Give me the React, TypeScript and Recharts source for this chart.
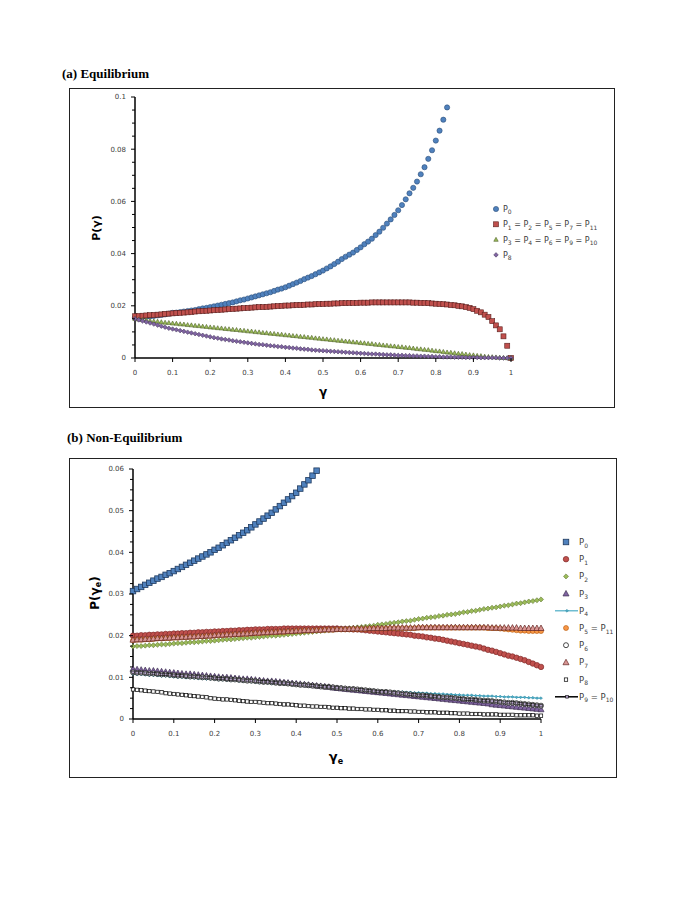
import React from 'react';
import { LineChart, Line, XAxis, YAxis } from 'recharts';

const FONT = '"DejaVu Sans", Verdana, sans-serif';
const SERIF = '"Liberation Serif", "Times New Roman", serif';

// ---------- shared x grid (gamma) ----------
const xGrid = [
  0, 0.01, 0.02, 0.03, 0.04, 0.05, 0.06, 0.07, 0.08, 0.09,
  0.1, 0.11, 0.12, 0.13, 0.14, 0.15, 0.16, 0.17, 0.18, 0.19,
  0.2, 0.21, 0.22, 0.23, 0.24, 0.25, 0.26, 0.27, 0.28, 0.29,
  0.3, 0.31, 0.32, 0.33, 0.34, 0.35, 0.36, 0.37, 0.38, 0.39,
  0.4, 0.41, 0.42, 0.43, 0.44, 0.45, 0.46, 0.47, 0.48, 0.49,
  0.5, 0.51, 0.52, 0.53, 0.54, 0.55, 0.56, 0.57, 0.58, 0.59,
  0.6, 0.61, 0.62, 0.63, 0.64, 0.65, 0.66, 0.67, 0.68, 0.69,
  0.7, 0.71, 0.72, 0.73, 0.74, 0.75, 0.76, 0.77, 0.78, 0.79,
  0.8, 0.81, 0.82, 0.83, 0.84, 0.85, 0.86, 0.87, 0.88, 0.89,
  0.9, 0.91, 0.92, 0.93, 0.94, 0.95, 0.96, 0.97, 0.98, 0.99,
  1,
];
const xTicks = [0, 0.1, 0.2, 0.3, 0.4, 0.5, 0.6, 0.7, 0.8, 0.9, 1];

// ---------- (a) Equilibrium ----------
const eqP0 = [
  0.0155, 0.0156, 0.0157, 0.0158, 0.0159, 0.0161, 0.0163, 0.0165, 0.0167, 0.0170,
  0.0173, 0.0174, 0.0176, 0.0178, 0.0180, 0.0182, 0.0184, 0.0187, 0.0190, 0.0192,
  0.0195, 0.0198, 0.0201, 0.0204, 0.0207, 0.0210, 0.0213, 0.0217, 0.0221, 0.0224,
  0.0228, 0.0232, 0.0236, 0.0240, 0.0244, 0.0248, 0.0252, 0.0257, 0.0262, 0.0266,
  0.0271, 0.0277, 0.0283, 0.0289, 0.0295, 0.0302, 0.0308, 0.0314, 0.0321, 0.0328,
  0.0335, 0.0343, 0.0351, 0.0360, 0.0369, 0.0379, 0.0388, 0.0396, 0.0404, 0.0414,
  0.0424, 0.0436, 0.0446, 0.0457, 0.0471, 0.0484, 0.0499, 0.0515, 0.0531, 0.0548,
  0.0566, 0.0586, 0.0608, 0.0631, 0.0652, 0.0676, 0.0704, 0.0731, 0.0763, 0.0796,
  0.0833, 0.0871, 0.0913, 0.0960,
];
const eqP1 = [
  0.0160, 0.0161, 0.0162, 0.0163, 0.0164, 0.0165, 0.0166, 0.0167, 0.0169, 0.0170,
  0.0171, 0.0172, 0.0173, 0.0174, 0.0175, 0.0176, 0.0178, 0.0179, 0.0180, 0.0181,
  0.0182, 0.0183, 0.0184, 0.0185, 0.0186, 0.0187, 0.0188, 0.0189, 0.0190, 0.0191,
  0.0192, 0.0193, 0.0194, 0.0195, 0.0195, 0.0196, 0.0197, 0.0198, 0.0199, 0.0200,
  0.0201, 0.0201, 0.0202, 0.0203, 0.0203, 0.0204, 0.0205, 0.0205, 0.0206, 0.0207,
  0.0207, 0.0208, 0.0208, 0.0209, 0.0209, 0.0210, 0.0210, 0.0211, 0.0211, 0.0211,
  0.0212, 0.0212, 0.0212, 0.0213, 0.0213, 0.0213, 0.0213, 0.0213, 0.0213, 0.0213,
  0.0213, 0.0213, 0.0213, 0.0213, 0.0212, 0.0212, 0.0211, 0.0211, 0.0210, 0.0209,
  0.0208, 0.0207, 0.0206, 0.0205, 0.0203, 0.0202, 0.0200, 0.0198, 0.0195, 0.0192,
  0.0187, 0.0181, 0.0175, 0.0166, 0.0157, 0.0141, 0.0125, 0.0110, 0.0083, 0.0047,
  0.0000,
];
const eqP3 = [
  0.0150, 0.0148, 0.0146, 0.0145, 0.0143, 0.0141, 0.0140, 0.0138, 0.0136, 0.0135,
  0.0133, 0.0132, 0.0130, 0.0129, 0.0127, 0.0126, 0.0124, 0.0123, 0.0121, 0.0120,
  0.0118, 0.0117, 0.0115, 0.0114, 0.0112, 0.0111, 0.0109, 0.0108, 0.0106, 0.0105,
  0.0103, 0.0102, 0.0100, 0.0099, 0.0097, 0.0096, 0.0094, 0.0093, 0.0091, 0.0090,
  0.0088, 0.0087, 0.0085, 0.0084, 0.0082, 0.0081, 0.0079, 0.0078, 0.0076, 0.0075,
  0.0073, 0.0072, 0.0070, 0.0069, 0.0067, 0.0066, 0.0064, 0.0063, 0.0061, 0.0060,
  0.0058, 0.0057, 0.0055, 0.0054, 0.0052, 0.0051, 0.0049, 0.0048, 0.0046, 0.0045,
  0.0043, 0.0042, 0.0040, 0.0039, 0.0037, 0.0035, 0.0034, 0.0032, 0.0031, 0.0029,
  0.0027, 0.0026, 0.0024, 0.0022, 0.0021, 0.0019, 0.0017, 0.0016, 0.0014, 0.0012,
  0.0011, 0.0009, 0.0008, 0.0006, 0.0005, 0.0004, 0.0003, 0.0002, 0.0001, 0.0000,
  0.0000,
];
const eqP8 = [
  0.0150, 0.0146, 0.0142, 0.0138, 0.0134, 0.0130, 0.0126, 0.0122, 0.0118, 0.0114,
  0.0111, 0.0108, 0.0105, 0.0102, 0.0099, 0.0096, 0.0093, 0.0090, 0.0087, 0.0084,
  0.0081, 0.0078, 0.0076, 0.0073, 0.0071, 0.0069, 0.0066, 0.0064, 0.0062, 0.0060,
  0.0058, 0.0056, 0.0054, 0.0052, 0.0051, 0.0049, 0.0047, 0.0046, 0.0044, 0.0043,
  0.0041, 0.0040, 0.0038, 0.0037, 0.0035, 0.0034, 0.0033, 0.0031, 0.0030, 0.0029,
  0.0028, 0.0027, 0.0026, 0.0025, 0.0024, 0.0023, 0.0022, 0.0021, 0.0020, 0.0019,
  0.0018, 0.0017, 0.0016, 0.0015, 0.0015, 0.0014, 0.0013, 0.0012, 0.0012, 0.0011,
  0.0010, 0.0010, 0.0009, 0.0009, 0.0008, 0.0008, 0.0007, 0.0007, 0.0006, 0.0006,
  0.0005, 0.0005, 0.0004, 0.0004, 0.0004, 0.0003, 0.0003, 0.0003, 0.0002, 0.0002,
  0.0002, 0.0002, 0.0001, 0.0001, 0.0001, 0.0001, 0.0001, 0.0000, 0.0000, 0.0000,
  0.0000,
];
const eqYTicks = [
  0, 0.005, 0.01, 0.015, 0.02, 0.025, 0.03, 0.035, 0.04, 0.045, 0.05,
  0.055, 0.06, 0.065, 0.07, 0.075, 0.08, 0.085, 0.09, 0.095, 0.1,
];
const eqYMajor = [0, 0.02, 0.04, 0.06, 0.08, 0.1];

// ---------- (b) Non-Equilibrium ----------
const neP0 = [
  0.0307, 0.0312, 0.0317, 0.0322, 0.0327, 0.0332, 0.0337, 0.0341, 0.0346, 0.0350,
  0.0355, 0.0360, 0.0365, 0.0370, 0.0375, 0.0380, 0.0385, 0.0390, 0.0395, 0.0400,
  0.0406, 0.0411, 0.0417, 0.0423, 0.0429, 0.0435, 0.0441, 0.0447, 0.0453, 0.0460,
  0.0467, 0.0474, 0.0481, 0.0488, 0.0495, 0.0503, 0.0511, 0.0519, 0.0527, 0.0535,
  0.0543, 0.0553, 0.0563, 0.0573, 0.0584, 0.0596,
];
const neP1 = [
  0.0200, 0.0200, 0.0201, 0.0201, 0.0202, 0.0202, 0.0203, 0.0203, 0.0204, 0.0204,
  0.0205, 0.0205, 0.0206, 0.0206, 0.0207, 0.0207, 0.0208, 0.0208, 0.0209, 0.0209,
  0.0210, 0.0210, 0.0211, 0.0211, 0.0212, 0.0212, 0.0213, 0.0213, 0.0214, 0.0214,
  0.0215, 0.0215, 0.0215, 0.0216, 0.0216, 0.0216, 0.0216, 0.0217, 0.0217, 0.0217,
  0.0217, 0.0217, 0.0217, 0.0217, 0.0217, 0.0217, 0.0217, 0.0217, 0.0217, 0.0217,
  0.0217, 0.0216, 0.0216, 0.0216, 0.0215, 0.0215, 0.0214, 0.0213, 0.0212, 0.0211,
  0.0210, 0.0209, 0.0208, 0.0207, 0.0206, 0.0205, 0.0204, 0.0203, 0.0202, 0.0200,
  0.0199, 0.0198, 0.0196, 0.0195, 0.0193, 0.0192, 0.0190, 0.0188, 0.0186, 0.0184,
  0.0182, 0.0180, 0.0178, 0.0176, 0.0174, 0.0172, 0.0169, 0.0166, 0.0164, 0.0161,
  0.0158, 0.0155, 0.0152, 0.0150, 0.0147, 0.0144, 0.0141, 0.0137, 0.0133, 0.0129,
  0.0125,
];
const neP2 = [
  0.0174, 0.0175, 0.0175, 0.0176, 0.0177, 0.0177, 0.0178, 0.0179, 0.0179, 0.0180,
  0.0181, 0.0182, 0.0182, 0.0183, 0.0184, 0.0184, 0.0185, 0.0186, 0.0187, 0.0187,
  0.0188, 0.0189, 0.0190, 0.0191, 0.0191, 0.0192, 0.0193, 0.0194, 0.0195, 0.0195,
  0.0196, 0.0197, 0.0198, 0.0199, 0.0200, 0.0200, 0.0201, 0.0202, 0.0203, 0.0204,
  0.0205, 0.0206, 0.0207, 0.0208, 0.0209, 0.0210, 0.0211, 0.0212, 0.0213, 0.0214,
  0.0215, 0.0216, 0.0217, 0.0218, 0.0219, 0.0220, 0.0221, 0.0222, 0.0223, 0.0224,
  0.0226, 0.0227, 0.0228, 0.0230, 0.0231, 0.0232, 0.0234, 0.0235, 0.0236, 0.0238,
  0.0240, 0.0241, 0.0243, 0.0244, 0.0245, 0.0247, 0.0248, 0.0250, 0.0251, 0.0252,
  0.0254, 0.0256, 0.0257, 0.0259, 0.0260, 0.0262, 0.0264, 0.0265, 0.0267, 0.0268,
  0.0270, 0.0272, 0.0273, 0.0275, 0.0277, 0.0278, 0.0280, 0.0282, 0.0283, 0.0285,
  0.0287,
];
const neP3 = [
  0.0120, 0.0119, 0.0118, 0.0117, 0.0116, 0.0116, 0.0115, 0.0114, 0.0113, 0.0112,
  0.0111, 0.0110, 0.0109, 0.0108, 0.0108, 0.0107, 0.0106, 0.0105, 0.0104, 0.0103,
  0.0102, 0.0101, 0.0100, 0.0100, 0.0099, 0.0098, 0.0097, 0.0096, 0.0096, 0.0095,
  0.0094, 0.0093, 0.0092, 0.0091, 0.0091, 0.0090, 0.0089, 0.0088, 0.0087, 0.0086,
  0.0085, 0.0084, 0.0083, 0.0082, 0.0081, 0.0080, 0.0079, 0.0078, 0.0077, 0.0075,
  0.0074, 0.0073, 0.0072, 0.0071, 0.0070, 0.0069, 0.0068, 0.0067, 0.0066, 0.0065,
  0.0064, 0.0063, 0.0062, 0.0061, 0.0060, 0.0059, 0.0058, 0.0057, 0.0056, 0.0055,
  0.0054, 0.0053, 0.0052, 0.0051, 0.0050, 0.0049, 0.0048, 0.0047, 0.0046, 0.0045,
  0.0044, 0.0043, 0.0042, 0.0041, 0.0040, 0.0039, 0.0038, 0.0037, 0.0035, 0.0034,
  0.0033, 0.0032, 0.0031, 0.0030, 0.0029, 0.0028, 0.0027, 0.0026, 0.0025, 0.0024,
  0.0023,
];
const neP4 = [
  0.0108, 0.0107, 0.0107, 0.0106, 0.0105, 0.0105, 0.0104, 0.0103, 0.0103, 0.0102,
  0.0101, 0.0100, 0.0100, 0.0099, 0.0099, 0.0098, 0.0097, 0.0097, 0.0096, 0.0096,
  0.0095, 0.0094, 0.0094, 0.0093, 0.0092, 0.0092, 0.0091, 0.0090, 0.0090, 0.0089,
  0.0088, 0.0087, 0.0087, 0.0086, 0.0085, 0.0085, 0.0084, 0.0083, 0.0083, 0.0082,
  0.0081, 0.0080, 0.0080, 0.0079, 0.0078, 0.0078, 0.0077, 0.0076, 0.0076, 0.0075,
  0.0074, 0.0073, 0.0073, 0.0072, 0.0072, 0.0071, 0.0071, 0.0070, 0.0069, 0.0069,
  0.0068, 0.0067, 0.0067, 0.0066, 0.0066, 0.0065, 0.0065, 0.0064, 0.0064, 0.0063,
  0.0063, 0.0062, 0.0062, 0.0061, 0.0061, 0.0060, 0.0060, 0.0059, 0.0059, 0.0058,
  0.0058, 0.0057, 0.0057, 0.0057, 0.0056, 0.0056, 0.0055, 0.0055, 0.0055, 0.0054,
  0.0054, 0.0053, 0.0053, 0.0053, 0.0052, 0.0052, 0.0052, 0.0051, 0.0051, 0.0050,
  0.0050,
];
const neP5 = [
  0.0189, 0.0190, 0.0190, 0.0191, 0.0191, 0.0192, 0.0193, 0.0193, 0.0194, 0.0194,
  0.0195, 0.0195, 0.0196, 0.0196, 0.0197, 0.0197, 0.0198, 0.0198, 0.0199, 0.0199,
  0.0200, 0.0201, 0.0201, 0.0202, 0.0202, 0.0203, 0.0203, 0.0204, 0.0204, 0.0205,
  0.0206, 0.0206, 0.0207, 0.0207, 0.0208, 0.0208, 0.0209, 0.0209, 0.0210, 0.0210,
  0.0211, 0.0211, 0.0212, 0.0212, 0.0212, 0.0213, 0.0213, 0.0214, 0.0214, 0.0214,
  0.0215, 0.0215, 0.0215, 0.0215, 0.0216, 0.0216, 0.0216, 0.0216, 0.0217, 0.0217,
  0.0217, 0.0217, 0.0217, 0.0218, 0.0218, 0.0218, 0.0218, 0.0218, 0.0218, 0.0218,
  0.0219, 0.0219, 0.0219, 0.0219, 0.0219, 0.0219, 0.0219, 0.0219, 0.0219, 0.0219,
  0.0219, 0.0219, 0.0219, 0.0219, 0.0219, 0.0219, 0.0219, 0.0218, 0.0218, 0.0218,
  0.0217, 0.0216, 0.0215, 0.0214, 0.0213, 0.0212, 0.0212, 0.0211, 0.0211, 0.0211,
  0.0211,
];
const neP7 = [
  0.0190, 0.0191, 0.0191, 0.0192, 0.0192, 0.0193, 0.0194, 0.0194, 0.0195, 0.0195,
  0.0196, 0.0196, 0.0197, 0.0197, 0.0198, 0.0198, 0.0199, 0.0199, 0.0200, 0.0200,
  0.0201, 0.0202, 0.0202, 0.0203, 0.0203, 0.0204, 0.0204, 0.0205, 0.0205, 0.0206,
  0.0207, 0.0207, 0.0208, 0.0208, 0.0209, 0.0209, 0.0210, 0.0210, 0.0211, 0.0211,
  0.0212, 0.0212, 0.0213, 0.0213, 0.0213, 0.0214, 0.0214, 0.0215, 0.0215, 0.0215,
  0.0216, 0.0216, 0.0216, 0.0216, 0.0217, 0.0217, 0.0217, 0.0217, 0.0218, 0.0218,
  0.0218, 0.0218, 0.0218, 0.0219, 0.0219, 0.0219, 0.0219, 0.0219, 0.0219, 0.0219,
  0.0220, 0.0220, 0.0220, 0.0220, 0.0220, 0.0220, 0.0220, 0.0220, 0.0220, 0.0220,
  0.0220, 0.0220, 0.0220, 0.0220, 0.0220, 0.0220, 0.0220, 0.0220, 0.0219, 0.0219,
  0.0219, 0.0219, 0.0219, 0.0219, 0.0219, 0.0218, 0.0218, 0.0218, 0.0218, 0.0218,
  0.0218,
];
const neP8 = [
  0.0071, 0.0070, 0.0069, 0.0068, 0.0067, 0.0066, 0.0065, 0.0064, 0.0062, 0.0061,
  0.0060, 0.0059, 0.0058, 0.0057, 0.0056, 0.0055, 0.0054, 0.0053, 0.0052, 0.0050,
  0.0049, 0.0048, 0.0047, 0.0047, 0.0046, 0.0045, 0.0044, 0.0043, 0.0042, 0.0041,
  0.0041, 0.0040, 0.0039, 0.0038, 0.0038, 0.0037, 0.0036, 0.0035, 0.0035, 0.0034,
  0.0033, 0.0032, 0.0032, 0.0031, 0.0030, 0.0030, 0.0029, 0.0029, 0.0028, 0.0027,
  0.0027, 0.0026, 0.0026, 0.0025, 0.0025, 0.0024, 0.0024, 0.0023, 0.0023, 0.0022,
  0.0022, 0.0021, 0.0021, 0.0020, 0.0020, 0.0019, 0.0019, 0.0019, 0.0018, 0.0018,
  0.0017, 0.0017, 0.0016, 0.0016, 0.0016, 0.0015, 0.0015, 0.0015, 0.0014, 0.0014,
  0.0013, 0.0013, 0.0013, 0.0012, 0.0012, 0.0012, 0.0011, 0.0011, 0.0011, 0.0011,
  0.0010, 0.0010, 0.0010, 0.0010, 0.0009, 0.0009, 0.0009, 0.0009, 0.0009, 0.0008,
  0.0008,
];
const neP9 = [
  0.0112, 0.0111, 0.0111, 0.0110, 0.0109, 0.0109, 0.0108, 0.0107, 0.0107, 0.0106,
  0.0105, 0.0104, 0.0104, 0.0103, 0.0102, 0.0102, 0.0101, 0.0100, 0.0100, 0.0099,
  0.0098, 0.0097, 0.0097, 0.0096, 0.0095, 0.0095, 0.0094, 0.0093, 0.0092, 0.0092,
  0.0091, 0.0090, 0.0089, 0.0089, 0.0088, 0.0087, 0.0086, 0.0086, 0.0085, 0.0084,
  0.0083, 0.0082, 0.0082, 0.0081, 0.0080, 0.0079, 0.0078, 0.0077, 0.0077, 0.0076,
  0.0075, 0.0074, 0.0073, 0.0072, 0.0072, 0.0071, 0.0070, 0.0069, 0.0068, 0.0067,
  0.0066, 0.0065, 0.0065, 0.0064, 0.0063, 0.0062, 0.0061, 0.0060, 0.0059, 0.0058,
  0.0057, 0.0057, 0.0056, 0.0055, 0.0054, 0.0053, 0.0052, 0.0052, 0.0051, 0.0050,
  0.0049, 0.0048, 0.0047, 0.0047, 0.0046, 0.0045, 0.0044, 0.0044, 0.0043, 0.0042,
  0.0041, 0.0040, 0.0039, 0.0039, 0.0038, 0.0037, 0.0036, 0.0035, 0.0034, 0.0033,
  0.0032,
];
// P6 is read as lying under the P9 = P10 curve
const neP6 = neP9;
const neYTicks = [
  0, 0.0025, 0.005, 0.0075, 0.01, 0.0125, 0.015, 0.0175, 0.02, 0.0225, 0.025,
  0.0275, 0.03, 0.0325, 0.035, 0.0375, 0.04, 0.0425, 0.045, 0.0475, 0.05,
  0.0525, 0.055, 0.0575, 0.06,
];
const neYMajor = [0, 0.01, 0.02, 0.03, 0.04, 0.05, 0.06];

// ---------- tables ----------
const at = (arr: number[], i: number) => (i < arr.length ? arr[i] : null);
const eqData = xGrid.map((x, i) => ({
  x,
  p0: at(eqP0, i),
  p1: at(eqP1, i),
  p3: at(eqP3, i),
  p8: at(eqP8, i),
}));
const neData = xGrid.map((x, i) => ({
  x,
  p0: at(neP0, i),
  p1: at(neP1, i),
  p2: at(neP2, i),
  p3: at(neP3, i),
  p4: at(neP4, i),
  p5: at(neP5, i),
  p6: at(neP6, i),
  p7: at(neP7, i),
  p8: at(neP8, i),
  p9: at(neP9, i),
}));

// ---------- markers ----------
type Mk = { shape: 'circle' | 'square' | 'triangle' | 'diamond'; size: number; fill: string; stroke: string; sw: number };

function Marker({ cx, cy, m }: { cx: number; cy: number; m: Mk }) {
  const s = m.size / 2;
  const common = { fill: m.fill, stroke: m.stroke, strokeWidth: m.sw };
  if (m.shape === 'circle') return <circle cx={cx} cy={cy} r={s} {...common} />;
  if (m.shape === 'square') return <rect x={cx - s} y={cy - s} width={m.size} height={m.size} {...common} />;
  if (m.shape === 'triangle')
    return (
      <polygon
        points={`${cx},${cy - s * 1.15} ${cx + s * 1.1},${cy + s * 0.85} ${cx - s * 1.1},${cy + s * 0.85}`}
        {...common}
      />
    );
  return (
    <polygon
      points={`${cx},${cy - s * 1.2} ${cx + s * 1.2},${cy} ${cx},${cy + s * 1.2} ${cx - s * 1.2},${cy}`}
      {...common}
    />
  );
}

const dotFor = (m: Mk) => (props: any) => {
  const { cx, cy, index, value } = props;
  if (value == null || cy == null || Number.isNaN(cy) || cx == null) return <g key={`e${index}`} />;
  return <Marker key={`d${index}`} cx={cx} cy={cy} m={m} />;
};

// panel (a) markers
const mkA0: Mk = { shape: 'circle', size: 5.2, fill: '#4F81BD', stroke: '#2E4F78', sw: 0.6 };
const mkA1: Mk = { shape: 'square', size: 5, fill: '#C0504D', stroke: '#5A1F1D', sw: 0.6 };
const mkA3: Mk = { shape: 'triangle', size: 4, fill: '#9BBB59', stroke: '#4F6228', sw: 0.6 };
const mkA8: Mk = { shape: 'diamond', size: 3.8, fill: '#8064A2', stroke: '#4A3A60', sw: 0.6 };

// panel (b) markers
const mkB0: Mk = { shape: 'square', size: 5.5, fill: '#4F81BD', stroke: '#1F3A5F', sw: 0.8 };
const mkB1: Mk = { shape: 'circle', size: 5.5, fill: '#C0504D', stroke: '#7F2A28', sw: 0.7 };
const mkB2: Mk = { shape: 'diamond', size: 4.2, fill: '#9BBB59', stroke: '#5F7530', sw: 0.6 };
const mkB3: Mk = { shape: 'triangle', size: 5.5, fill: '#8064A2', stroke: '#3F3151', sw: 0.7 };
const mkB4: Mk = { shape: 'diamond', size: 2.4, fill: '#4BACC6', stroke: '#31859C', sw: 0.5 };
const mkB5: Mk = { shape: 'circle', size: 5, fill: '#F79646', stroke: '#B65708', sw: 0.6 };
const mkB6: Mk = { shape: 'circle', size: 5, fill: '#FFFFFF', stroke: '#000000', sw: 0.7 };
const mkB7: Mk = { shape: 'triangle', size: 5.5, fill: '#D99694', stroke: '#632523', sw: 0.7 };
const mkB8: Mk = { shape: 'square', size: 3.4, fill: '#FFFFFF', stroke: '#000000', sw: 0.7 };
const mkB9: Mk = { shape: 'square', size: 2.6, fill: '#B3A2C7', stroke: '#000000', sw: 0.6 };

// ---------- ticks ----------
const makeYTick = (majors: number[]) => (props: any) => {
  const { x, y, payload } = props;
  const v = payload.value;
  const isMajor = majors.some((m) => Math.abs(m - v) < 1e-9);
  return (
    <g>
      <line x1={x - (isMajor ? 4 : 3)} x2={x} y1={y} y2={y} stroke="#000" strokeWidth={1} />
      {isMajor && (
        <text x={x - 9} y={y} dy="0.35em" textAnchor="end" fontSize={7} fontFamily={FONT} fill="#404040">
          {String(v)}
        </text>
      )}
    </g>
  );
};

const XTick = (props: any) => {
  const { x, y, payload } = props;
  return (
    <g>
      <line x1={x} x2={x} y1={y} y2={y + 4} stroke="#000" strokeWidth={1} />
      <text x={x} y={y + 15} dy="0.35em" textAnchor="middle" fontSize={7} fontFamily={FONT} fill="#404040">
        {String(payload.value)}
      </text>
    </g>
  );
};

// ---------- text helpers ----------
function PText({ x, y, subs, size, subSize, color }: { x: number; y: number; subs: string[]; size: number; subSize: number; color: string }) {
  const kids: React.ReactNode[] = [];
  const shift = size * 0.3;
  subs.forEach((s, i) => {
    if (i > 0) kids.push(<tspan key={`q${i}`} dy={-shift}>{' = '}</tspan>);
    kids.push(<tspan key={`p${i}`}>P</tspan>);
    kids.push(
      <tspan key={`s${i}`} dy={shift} fontSize={subSize}>
        {s}
      </tspan>,
    );
  });
  return (
    <text x={x} y={y} fontSize={size} fontFamily={FONT} fill={color} style={{ whiteSpace: 'pre' }}>
      {kids}
    </text>
  );
}

const eqLegend = [
  { subs: ['0'], m: mkA0 },
  { subs: ['1', '2', '5', '7', '11'], m: mkA1 },
  { subs: ['3', '4', '6', '9', '10'], m: mkA3 },
  { subs: ['8'], m: mkA8 },
];
const neLegend = [
  { subs: ['0'], m: mkB0, line: '' },
  { subs: ['1'], m: mkB1, line: '' },
  { subs: ['2'], m: mkB2, line: '' },
  { subs: ['3'], m: mkB3, line: '' },
  { subs: ['4'], m: mkB4, line: '#4BACC6' },
  { subs: ['5', '11'], m: mkB5, line: '' },
  { subs: ['6'], m: mkB6, line: '' },
  { subs: ['7'], m: mkB7, line: '' },
  { subs: ['8'], m: mkB8, line: '' },
  { subs: ['9', '10'], m: mkB9, line: '#000000' },
];

function Overlay() {
  return (
    <svg
      width={683}
      height={900}
      style={{ position: 'absolute', left: 0, top: 0, pointerEvents: 'none' }}
    >
      {/* titles */}
      <text x={62} y={78} fontFamily={SERIF} fontWeight="bold" fontSize={13} fill="#000">
        (a) Equilibrium
      </text>
      <text x={67} y={442} fontFamily={SERIF} fontWeight="bold" fontSize={13} fill="#000">
        (b) Non-Equilibrium
      </text>

      {/* axis titles (a) */}
      <text
        x={96}
        y={228}
        transform="rotate(-90 96 228)"
        textAnchor="middle"
        dominantBaseline="central"
        fontFamily={FONT}
        fontWeight="bold"
        fontSize={11}
        fill="#000"
      >
        P(γ)
      </text>
      <text x={323} y={396} textAnchor="middle" fontFamily={FONT} fontWeight="bold" fontSize={12} fill="#000">
        γ
      </text>

      {/* axis titles (b) */}
      <text
        x={95}
        y={593}
        transform="rotate(-90 95 593)"
        textAnchor="middle"
        dominantBaseline="central"
        fontFamily={FONT}
        fontWeight="bold"
        fontSize={12}
        fill="#000"
      >
        P(γ<tspan fontSize={8} dy={3}>e</tspan>
        <tspan dy={-3}>)</tspan>
      </text>
      <text x={336} y={761} textAnchor="middle" fontFamily={FONT} fontWeight="bold" fontSize={13} fill="#000">
        γ<tspan fontSize={8} dy={3}>e</tspan>
      </text>

      {/* legend (a) */}
      {eqLegend.map((e, i) => {
        const y = 209 + i * 15.3;
        return (
          <g key={`la${i}`}>
            <Marker cx={496} cy={y} m={e.m} />
            <PText x={503} y={y + 3} subs={e.subs} size={8} subSize={6} color="#404040" />
          </g>
        );
      })}

      {/* legend (b) */}
      {neLegend.map((e, i) => {
        const y = 542 + i * 17.2;
        return (
          <g key={`lb${i}`}>
            {e.line && <line x1={555} x2={578} y1={y} y2={y} stroke={e.line} strokeWidth={e.line === '#000000' ? 1.5 : 1.2} />}
            <Marker cx={e.line ? 567 : 566} cy={y} m={e.m} />
            <PText x={579} y={y + 3} subs={e.subs} size={8.5} subSize={6} color="#404040" />
          </g>
        );
      })}
    </svg>
  );
}

const frame = (left: number, top: number, w: number, h: number): React.CSSProperties => ({
  position: 'absolute',
  left,
  top,
  width: w,
  height: h,
  border: '1.5px solid #222',
  boxSizing: 'border-box',
  background: '#fff',
});

export default function App() {
  return (
    <div style={{ position: 'absolute', left: 0, top: 0, width: 683, height: 900, background: '#fff' }}>
      {/* (a) Equilibrium */}
      <div style={frame(69, 88, 546, 320)} />
      <div style={{ position: 'absolute', left: 69, top: 88 }}>
        <LineChart width={546} height={320} data={eqData} margin={{ top: 9, right: 104, bottom: 0, left: 0 }}>
          <XAxis
            dataKey="x"
            type="number"
            domain={[0, 1]}
            ticks={xTicks}
            interval={0}
            height={50}
            tickSize={0}
            tickMargin={0}
            tickLine={false}
            axisLine={{ stroke: '#000', strokeWidth: 1.5 }}
            tick={XTick}
          />
          <YAxis
            type="number"
            domain={[0, 0.1]}
            ticks={eqYTicks}
            interval={0}
            width={66}
            tickSize={0}
            tickMargin={0}
            tickLine={false}
            axisLine={{ stroke: '#000', strokeWidth: 1.5 }}
            tick={makeYTick(eqYMajor)}
          />
          <Line dataKey="p0" stroke="none" dot={dotFor(mkA0)} activeDot={false} isAnimationActive={false} />
          <Line dataKey="p1" stroke="none" dot={dotFor(mkA1)} activeDot={false} isAnimationActive={false} />
          <Line dataKey="p3" stroke="none" dot={dotFor(mkA3)} activeDot={false} isAnimationActive={false} />
          <Line dataKey="p8" stroke="none" dot={dotFor(mkA8)} activeDot={false} isAnimationActive={false} />
        </LineChart>
      </div>

      {/* (b) Non-Equilibrium */}
      <div style={frame(69, 458, 548, 320)} />
      <div style={{ position: 'absolute', left: 69, top: 458 }}>
        <LineChart width={548} height={320} data={neData} margin={{ top: 11, right: 76, bottom: 0, left: 0 }}>
          <XAxis
            dataKey="x"
            type="number"
            domain={[0, 1]}
            ticks={xTicks}
            interval={0}
            height={59}
            tickSize={0}
            tickMargin={0}
            tickLine={false}
            axisLine={{ stroke: '#000', strokeWidth: 1.5 }}
            tick={XTick}
          />
          <YAxis
            type="number"
            domain={[0, 0.06]}
            ticks={neYTicks}
            interval={0}
            width={64}
            tickSize={0}
            tickMargin={0}
            tickLine={false}
            axisLine={{ stroke: '#000', strokeWidth: 1.5 }}
            tick={makeYTick(neYMajor)}
          />
          <Line dataKey="p0" stroke="none" dot={dotFor(mkB0)} activeDot={false} isAnimationActive={false} />
          <Line dataKey="p1" stroke="none" dot={dotFor(mkB1)} activeDot={false} isAnimationActive={false} />
          <Line dataKey="p2" stroke="none" dot={dotFor(mkB2)} activeDot={false} isAnimationActive={false} />
          <Line dataKey="p3" stroke="none" dot={dotFor(mkB3)} activeDot={false} isAnimationActive={false} />
          <Line dataKey="p4" stroke="#4BACC6" strokeWidth={1.2} dot={dotFor(mkB4)} activeDot={false} isAnimationActive={false} />
          <Line dataKey="p5" stroke="none" dot={dotFor(mkB5)} activeDot={false} isAnimationActive={false} />
          <Line dataKey="p6" stroke="none" dot={dotFor(mkB6)} activeDot={false} isAnimationActive={false} />
          <Line dataKey="p7" stroke="none" dot={dotFor(mkB7)} activeDot={false} isAnimationActive={false} />
          <Line dataKey="p8" stroke="none" dot={dotFor(mkB8)} activeDot={false} isAnimationActive={false} />
          <Line dataKey="p9" stroke="#000" strokeWidth={1.5} dot={dotFor(mkB9)} activeDot={false} isAnimationActive={false} />
        </LineChart>
      </div>

      <Overlay />
    </div>
  );
}
